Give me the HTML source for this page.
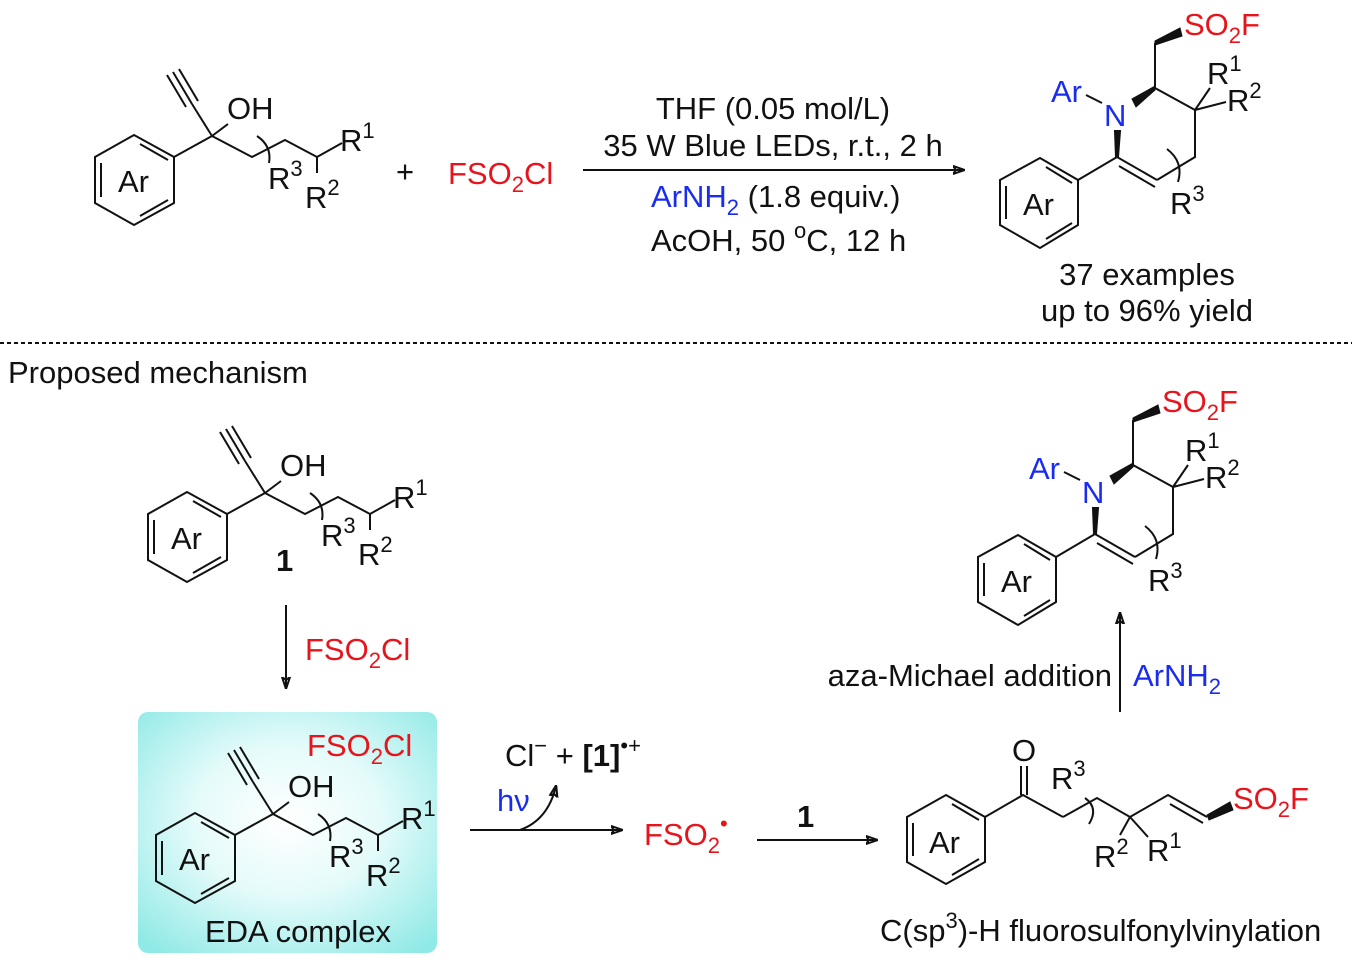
<!DOCTYPE html>
<html><head><meta charset="utf-8"><style>
html,body{margin:0;padding:0;background:#fff}
svg{display:block}
text{font-family:"Liberation Sans",Arial,sans-serif;font-size:31px;fill:#111}
.r{fill:#e8141c}.b{fill:#1a2cf0}
line,polyline,path{stroke:#111;stroke-width:2;fill:none}
</style></head><body>
<svg width="1352" height="964" viewBox="0 0 1352 964" xmlns="http://www.w3.org/2000/svg">
<defs>
<radialGradient id="g" cx="0.5" cy="0.45" r="0.7">
<stop offset="0" stop-color="#ffffff"/><stop offset="0.45" stop-color="#e4fbfa"/><stop offset="1" stop-color="#8fe9e6"/></radialGradient>
<marker id="ah" markerWidth="12" markerHeight="10" refX="11" refY="5" orient="auto" markerUnits="userSpaceOnUse"><path d="M0,1 L12,5 L0,9 L3,5 Z" fill="#111" stroke="none"/></marker>
</defs>

<rect x="138" y="712" width="299" height="241" rx="10" fill="url(#g)"/>

<g>
<polygon points="134,135 174,157 174,203 134,225 95,203 95,157" fill="none" stroke="#111" stroke-width="2"/>
<line x1="101" y1="163" x2="101" y2="197"/><line x1="140" y1="144" x2="168" y2="160"/><line x1="140" y1="216" x2="168" y2="200"/>
<text x="118" y="192">Ar</text>
<line x1="174" y1="157" x2="212" y2="136"/>
<line x1="212" y1="136" x2="192" y2="104"/>
<line x1="192" y1="104" x2="173" y2="72"/><line x1="198" y1="101" x2="179" y2="69"/><line x1="186" y1="107" x2="167" y2="75"/>
<line x1="212" y1="136" x2="228" y2="124"/>
<text x="227" y="119">OH</text>
<polyline points="212,136 252,157 285,140 317,157 342,143"/>
<line x1="317" y1="157" x2="317" y2="173"/>
<path d="M257,136 Q272,146 269,163"/>
<text x="340" y="151">R<tspan font-size="22" dy="-13">1</tspan></text>
<text x="268" y="189">R<tspan font-size="22" dy="-13">3</tspan></text>
<text x="305" y="208">R<tspan font-size="22" dy="-13">2</tspan></text>
</g>
<g transform="translate(53,357)">
<polygon points="134,135 174,157 174,203 134,225 95,203 95,157" fill="none" stroke="#111" stroke-width="2"/>
<line x1="101" y1="163" x2="101" y2="197"/><line x1="140" y1="144" x2="168" y2="160"/><line x1="140" y1="216" x2="168" y2="200"/>
<text x="118" y="192">Ar</text>
<line x1="174" y1="157" x2="212" y2="136"/>
<line x1="212" y1="136" x2="192" y2="104"/>
<line x1="192" y1="104" x2="173" y2="72"/><line x1="198" y1="101" x2="179" y2="69"/><line x1="186" y1="107" x2="167" y2="75"/>
<line x1="212" y1="136" x2="228" y2="124"/>
<text x="227" y="119">OH</text>
<polyline points="212,136 252,157 285,140 317,157 342,143"/>
<line x1="317" y1="157" x2="317" y2="173"/>
<path d="M257,136 Q272,146 269,163"/>
<text x="340" y="151">R<tspan font-size="22" dy="-13">1</tspan></text>
<text x="268" y="189">R<tspan font-size="22" dy="-13">3</tspan></text>
<text x="305" y="208">R<tspan font-size="22" dy="-13">2</tspan></text>
<text x="223" y="214" font-weight="bold">1</text>
</g>
<g transform="translate(61,678)">
<polygon points="134,135 174,157 174,203 134,225 95,203 95,157" fill="none" stroke="#111" stroke-width="2"/>
<line x1="101" y1="163" x2="101" y2="197"/><line x1="140" y1="144" x2="168" y2="160"/><line x1="140" y1="216" x2="168" y2="200"/>
<text x="118" y="192">Ar</text>
<line x1="174" y1="157" x2="212" y2="136"/>
<line x1="212" y1="136" x2="192" y2="104"/>
<line x1="192" y1="104" x2="173" y2="72"/><line x1="198" y1="101" x2="179" y2="69"/><line x1="186" y1="107" x2="167" y2="75"/>
<line x1="212" y1="136" x2="228" y2="124"/>
<text x="227" y="119">OH</text>
<polyline points="212,136 252,157 285,140 317,157 342,143"/>
<line x1="317" y1="157" x2="317" y2="173"/>
<path d="M257,136 Q272,146 269,163"/>
<text x="340" y="151">R<tspan font-size="22" dy="-13">1</tspan></text>
<text x="268" y="189">R<tspan font-size="22" dy="-13">3</tspan></text>
<text x="305" y="208">R<tspan font-size="22" dy="-13">2</tspan></text>
</g>

<text x="396" y="182">+</text>
<text x="448" y="184" class="r">FSO<tspan font-size="22" dy="8">2</tspan><tspan dy="-8">Cl</tspan></text>
<line x1="583" y1="170" x2="964" y2="170" marker-end="url(#ah)"/>
<text x="773" y="119" text-anchor="middle">THF (0.05 mol/L)</text>
<text x="773" y="156" text-anchor="middle">35 W Blue LEDs, r.t., 2 h</text>
<text x="651" y="207"><tspan class="b">ArNH</tspan><tspan class="b" font-size="22" dy="8">2</tspan><tspan dy="-8"> (1.8 equiv.)</tspan></text>
<text x="651" y="251">AcOH, 50 <tspan font-size="22" dy="-13">o</tspan><tspan dy="13">C, 12 h</tspan></text>

<g>
<polygon points="1040,158 1078,180 1078,225 1040,248 1000,225 1000,180" fill="none" stroke="#111" stroke-width="2"/>
<line x1="1006" y1="186" x2="1006" y2="219"/><line x1="1046" y1="167" x2="1072" y2="183"/><line x1="1046" y1="239" x2="1072" y2="223"/>
<text x="1023" y="215">Ar</text>
<line x1="1078" y1="180" x2="1117" y2="157"/>
<line x1="1117" y1="157" x2="1157" y2="180"/><line x1="1119" y1="166" x2="1155" y2="187"/>
<polyline points="1157,180 1195,157 1195,110 1155,88 1155,43"/>
<polygon points="1155,41 1180,28 1182,36 1155,45" fill="#111" stroke="#111" stroke-width="1"/>
<polygon points="1155,86 1132,99 1136,107 1155,90" fill="#111" stroke="#111" stroke-width="1"/>
<polygon points="1115,131 1120,131 1118,157 1116,157" fill="#111" stroke="#111" stroke-width="2"/>
<line x1="1086" y1="95" x2="1102" y2="103"/>
<line x1="1195" y1="110" x2="1210" y2="88"/><line x1="1195" y1="110" x2="1226" y2="102"/>
<path d="M1167,149 Q1184,162 1178,182"/>
<text x="1104" y="126" class="b">N</text>
<text x="1051" y="102" class="b">Ar</text>
<text x="1184" y="35" class="r">SO<tspan font-size="22" dy="8">2</tspan><tspan dy="-8">F</tspan></text>
<text x="1207" y="84">R<tspan font-size="22" dy="-13">1</tspan></text>
<text x="1227" y="111">R<tspan font-size="22" dy="-13">2</tspan></text>
<text x="1170" y="214">R<tspan font-size="22" dy="-13">3</tspan></text>
</g>
<g transform="translate(-22,377)">
<polygon points="1040,158 1078,180 1078,225 1040,248 1000,225 1000,180" fill="none" stroke="#111" stroke-width="2"/>
<line x1="1006" y1="186" x2="1006" y2="219"/><line x1="1046" y1="167" x2="1072" y2="183"/><line x1="1046" y1="239" x2="1072" y2="223"/>
<text x="1023" y="215">Ar</text>
<line x1="1078" y1="180" x2="1117" y2="157"/>
<line x1="1117" y1="157" x2="1157" y2="180"/><line x1="1119" y1="166" x2="1155" y2="187"/>
<polyline points="1157,180 1195,157 1195,110 1155,88 1155,43"/>
<polygon points="1155,41 1180,28 1182,36 1155,45" fill="#111" stroke="#111" stroke-width="1"/>
<polygon points="1155,86 1132,99 1136,107 1155,90" fill="#111" stroke="#111" stroke-width="1"/>
<polygon points="1115,131 1120,131 1118,157 1116,157" fill="#111" stroke="#111" stroke-width="2"/>
<line x1="1086" y1="95" x2="1102" y2="103"/>
<line x1="1195" y1="110" x2="1210" y2="88"/><line x1="1195" y1="110" x2="1226" y2="102"/>
<path d="M1167,149 Q1184,162 1178,182"/>
<text x="1104" y="126" class="b">N</text>
<text x="1051" y="102" class="b">Ar</text>
<text x="1184" y="35" class="r">SO<tspan font-size="22" dy="8">2</tspan><tspan dy="-8">F</tspan></text>
<text x="1207" y="84">R<tspan font-size="22" dy="-13">1</tspan></text>
<text x="1227" y="111">R<tspan font-size="22" dy="-13">2</tspan></text>
<text x="1170" y="214">R<tspan font-size="22" dy="-13">3</tspan></text>
</g>
<text x="1147" y="285" text-anchor="middle">37 examples</text>
<text x="1147" y="321" text-anchor="middle">up to 96% yield</text>

<line x1="0" y1="343" x2="1352" y2="343" stroke-dasharray="4,3" stroke-width="1.2"/>
<text x="8" y="383">Proposed mechanism</text>

<line x1="286" y1="605" x2="286" y2="688" stroke-width="1.5" marker-end="url(#ah)"/>
<text x="305" y="660" class="r">FSO<tspan font-size="22" dy="8">2</tspan><tspan dy="-8">Cl</tspan></text>
<text x="307" y="756" class="r">FSO<tspan font-size="22" dy="8">2</tspan><tspan dy="-8">Cl</tspan></text>
<text x="298" y="942" text-anchor="middle">EDA complex</text>

<line x1="470" y1="830" x2="622" y2="830" stroke-width="1.5" marker-end="url(#ah)"/>
<text x="497" y="811" class="b">hν</text>
<path d="M520,830 Q548,820 556,786" stroke-width="1.5" marker-end="url(#ah)"/>
<text x="505" y="766">Cl<tspan font-size="22" dy="-13">−</tspan><tspan dy="13"> + </tspan><tspan font-weight="bold">[1]</tspan><tspan font-size="22" dy="-13">•+</tspan></text>
<text x="644" y="845" class="r">FSO<tspan font-size="22" dy="8">2</tspan><tspan font-size="22" dy="-22">•</tspan></text>
<line x1="757" y1="840" x2="877" y2="840" stroke-width="1.5" marker-end="url(#ah)"/>
<text x="797" y="827" font-weight="bold">1</text>

<line x1="1120" y1="712" x2="1120" y2="613" stroke-width="1.5" marker-end="url(#ah)"/>
<text x="1112" y="686" text-anchor="end">aza-Michael addition</text>
<text x="1133" y="686" class="b">ArNH<tspan font-size="22" dy="8">2</tspan></text>

<g>
<polygon points="946,795 985,817 985,862 946,884 907,862 907,817" fill="none" stroke="#111" stroke-width="2"/>
<line x1="913" y1="823" x2="913" y2="856"/><line x1="952" y1="804" x2="979" y2="820"/><line x1="952" y1="875" x2="979" y2="859"/>
<text x="929" y="853">Ar</text>
<polyline points="985,817 1023,795 1063,817"/>
<line x1="1021" y1="795" x2="1021" y2="766"/><line x1="1027" y1="795" x2="1027" y2="766"/>
<text x="1024" y="761" text-anchor="middle">O</text>
<path d="M1085,798 Q1099,808 1089,824"/>
<polyline points="1063,817 1097,798 1130,817 1168,795 1207,817"/>
<line x1="1170" y1="804" x2="1203" y2="823"/>
<line x1="1130" y1="817" x2="1120" y2="835"/><line x1="1130" y1="817" x2="1148" y2="837"/>
<polygon points="1207,815 1230,802 1233,810 1209,820" fill="#111" stroke="#111" stroke-width="1"/>
<text x="1233" y="809" class="r">SO<tspan font-size="22" dy="8">2</tspan><tspan dy="-8">F</tspan></text>
<text x="1051" y="789">R<tspan font-size="22" dy="-13">3</tspan></text>
<text x="1094" y="867">R<tspan font-size="22" dy="-13">2</tspan></text>
<text x="1147" y="861">R<tspan font-size="22" dy="-13">1</tspan></text>
</g>
<text x="880" y="941">C(sp<tspan font-size="22" dy="-13">3</tspan><tspan dy="13">)-H fluorosulfonylvinylation</tspan></text>
</svg>
</body></html>
